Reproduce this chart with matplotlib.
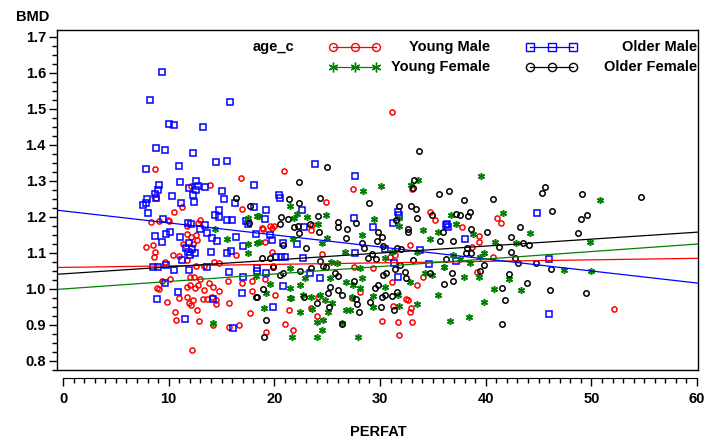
import numpy as np
import matplotlib.pyplot as plt
from matplotlib.ticker import MultipleLocator, FormatStrFormatter

plt.rcParams['font.family'] = ['Liberation Sans', 'DejaVu Sans']
plt.rcParams['font.weight'] = 'bold'

# values
ym_x = [8.67, 16.8, 12.1, 13.9, 8.8, 11.3, 10.5, 16.9, 8.3, 9.1, 9.9, 10.06,
        11.7, 13.0, 12.8, 12.55, 12.7, 11.7, 12.1, 11.4, 12.3,
        8.55, 7.85, 8.67, 8.64, 9.62, 10.4, 11.0, 11.7, 12.6, 13.3, 14.3, 14.8, 16.4,
        9.33, 10.1, 11.98, 12.4, 13.0, 12.0, 12.8, 12.5, 13.3, 13.8, 14.2, 14.8, 15.6,
        8.92, 9.1, 11.7, 11.76, 11.0, 12.3, 12.1, 11.9, 13.2, 13.6, 14.1, 14.5, 14.5,
        15.7, 9.87, 10.6, 12.7, 10.7, 12.9, 14.2, 15.7, 16.7, 17.85, 17.9, 12.2, 16.9,
        31.1, 20.9, 27.4, 33.0, 24.9, 34.75, 35.2, 18.85, 19.6, 19.8, 23.6,
        23.5, 19.1, 19.75, 19.9, 19.1, 20.05, 24.5, 18.95, 20.0,
        32.8, 31.4, 30.9, 27.5, 29.3, 34.1, 31.1, 33.5, 28.1, 32.5,
        21.4, 21.0, 19.2, 21.8, 23.5, 24.0, 24.15, 17.7,
        32.6, 31.2, 32.9, 32.8, 30.15, 31.7, 33.0, 31.8, 27.3,
        41.1, 41.4, 37.8, 39.4, 39.4, 38.7, 40.65, 39.2, 52.1]
ym_y = [1.332, 1.308, 1.285, 1.290, 1.254, 1.229, 1.215, 1.222, 1.186, 1.188, 1.192, 1.189,
        1.176, 1.192, 1.182, 1.150, 1.136, 1.152, 1.145, 1.124, 1.124,
        1.122, 1.116, 1.103, 1.090, 1.074, 1.094, 1.092, 1.080, 1.065, 1.065, 1.076, 1.073, 1.094,
        1.023, 1.027, 1.033, 1.033, 1.028, 1.011, 1.010, 1.002, 0.997, 1.016, 1.005, 0.995, 1.023,
        1.004, 0.999, 1.006, 0.977, 0.974, 0.969, 0.955, 0.960, 0.973, 0.973, 0.979, 0.969, 0.959,
        0.960, 0.964, 0.937, 0.941, 0.914, 0.912, 0.899, 0.895, 0.901, 1.023, 0.995, 0.830, 1.016,
        1.493, 1.328, 1.277, 1.278, 1.243, 1.213, 1.191, 1.170, 1.175, 1.170, 1.177,
        1.164, 1.131, 1.104, 1.064, 1.027, 0.983, 1.097, 1.167, 1.176,
        1.122, 1.094, 1.090, 1.062, 1.059, 1.034, 1.020, 1.011, 0.993, 0.973,
        0.942, 0.903, 0.881, 0.886, 0.946, 0.926, 0.979, 0.932,
        0.969, 0.954, 0.946, 0.935, 0.911, 0.907, 0.909, 0.871, 0.974,
        1.197, 1.184, 1.173, 1.147, 1.130, 1.118, 1.088, 1.047, 0.944]

om_x = [9.39, 8.26, 15.8, 10.06, 10.5, 13.2, 8.8, 9.68, 12.3, 14.5, 15.5, 7.88, 11.0,
        11.1, 12.6, 12.8, 13.4, 11.9, 12.55, 18.1, 9.08, 8.96, 8.7, 15.0, 10.3, 12.3,
        15.2, 7.9, 8.8, 7.85, 7.54, 8.0, 11.2, 12.4, 16.3,
        14.35, 14.8, 14.8, 16.0, 15.5, 17.3, 17.5, 9.46, 11.8, 12.1, 13.4, 13.0, 13.6,
        8.7, 9.37, 9.74, 10.15, 11.07, 11.9, 11.85, 12.5, 14.6, 14.1, 16.4, 17.0, 15.9,
        15.5, 14.0, 11.25, 11.95, 13.6, 8.55, 9.7, 10.5, 15.7, 17.0, 18.4, 9.68, 10.9,
        8.92, 16.9, 14.2, 11.5, 16.1, 11.6, 12.2, 12.0, 9.0,
        23.8, 20.4, 20.5, 27.6, 18.1, 19.2, 22.6, 19.1, 31.7, 31.8, 27.5, 31.2, 29.3,
        22.8, 36.3,
        18.3, 19.6, 19.75, 20.8, 22.1, 20.2, 20.65, 21.0, 22.7, 18.4, 19.2, 23.4, 24.3, 20.8,
        27.6, 30.5, 34.6, 31.3, 31.7, 33.8, 19.9,
        44.9, 36.2, 36.4, 38.0, 37.2, 45.95, 45.95]
om_y = [1.603, 1.524, 1.520, 1.457, 1.455, 1.449, 1.392, 1.385, 1.377, 1.353, 1.356, 1.334, 1.342,
        1.297, 1.299, 1.287, 1.283, 1.280, 1.276, 1.289, 1.288, 1.276, 1.265, 1.272, 1.257, 1.260,
        1.251, 1.250, 1.252, 1.238, 1.232, 1.212, 1.238, 1.241, 1.238,
        1.205, 1.220, 1.200, 1.191, 1.191, 1.190, 1.180, 1.195, 1.182, 1.180, 1.177, 1.166, 1.155,
        1.147, 1.131, 1.152, 1.158, 1.145, 1.129, 1.104, 1.101, 1.133, 1.143, 1.144, 1.119, 1.106,
        1.101, 1.104, 1.080, 1.053, 1.060, 1.062, 1.067, 1.053, 1.048, 1.034, 1.050, 1.016, 0.991,
        0.971, 0.988, 0.971, 0.916, 0.892, 1.115, 1.110, 1.095, 1.060,
        1.347, 1.262, 1.253, 1.315, 1.229, 1.219, 1.219, 1.195, 1.213, 1.206, 1.196, 1.182, 1.172,
        1.172, 1.180,
        1.152, 1.150, 1.136, 1.129, 1.124, 1.090, 1.090, 1.088, 1.085, 1.059, 1.044, 1.044, 1.030, 1.009,
        1.100, 1.111, 1.069, 1.071, 1.034, 1.108, 0.951,
        1.212, 1.177, 1.171, 1.138, 1.078, 1.083, 0.931]

yf_x = [14.4, 17.5, 18.4, 15.5, 17.5, 18.4, 17.5, 14.2, 18.3,
        28.4, 30.1, 33.6, 32.9, 21.5, 22.1, 21.9, 23.05, 24.85, 29.4, 18.5, 31.8, 24.1, 31.8,
        18.5, 21.8, 24.5, 25.0, 26.7, 21.5, 22.9, 22.4, 21.5, 19.6, 19.2, 21.6, 22.7, 23.5,
        24.3, 25.4, 25.9, 25.3, 26.8,
        28.3, 34.7, 34.1, 35.5, 36.1, 33.5, 30.5, 31.1, 28.1, 28.3, 28.1, 27.4, 30.5, 32.8,
        34.3, 34.9, 29.3, 27.3, 35.5, 31.7,
        21.5, 19.0, 22.4, 23.6, 24.0, 24.6, 25.1, 24.5, 24.0, 21.7, 25.5, 26.8, 26.4, 24.8,
        27.2, 29.3, 31.8, 33.5, 36.6, 27.9,
        39.6, 50.8, 36.7, 41.6, 37.2, 38.8, 44.2, 40.9, 42.9, 49.9, 39.8, 36.9, 39.45, 38.5,
        37.6, 36.1, 47.4, 50.0, 37.9, 39.4, 42.2, 40.8, 43.3, 39.8, 38.4]
yf_y = [1.167, 1.196, 1.204, 1.140, 1.125, 1.129, 1.099, 0.905, 1.036,
        1.272, 1.286, 1.303, 1.290, 1.231, 1.208, 1.196, 1.200, 1.205, 1.194, 1.203, 1.198, 1.180, 1.176,
        1.131, 1.139, 1.127, 1.142, 1.104, 1.057, 1.030, 1.011, 1.002, 1.013, 0.988, 0.976, 0.983, 0.979,
        0.983, 1.074, 1.071, 1.030, 1.020,
        1.150, 1.139, 1.164, 1.159, 1.062, 1.104, 1.085, 1.104, 1.057, 1.030, 1.002, 1.011, 1.006, 1.019,
        1.044, 1.039, 0.981, 0.979, 0.983, 0.983,
        0.974, 0.948, 0.935, 0.944, 0.907, 0.914, 0.937, 0.886, 0.867, 0.867, 0.960, 0.942, 0.905, 0.969,
        0.942, 0.951, 0.954, 0.958, 0.911, 0.867,
        1.314, 1.247, 1.205, 1.211, 1.181, 1.153, 1.155, 1.131, 1.127, 1.131, 1.099, 1.094, 1.088, 1.071,
        1.083, 1.060, 1.053, 1.050, 1.034, 1.032, 1.027, 1.001, 0.997, 0.964, 0.921]

of_x = [16.4, 17.7, 17.6, 18.3,
        33.7, 24.95, 22.3, 33.2, 33.1, 35.6, 36.5, 21.35, 24.3, 22.35, 28.95, 31.8, 32.9, 33.4,
        34.9, 33.5, 31.5, 20.65, 21.3, 24.1, 26.05, 27.75, 20.5, 21.9, 23.4, 26.0, 26.9, 32.6, 22.2,
        22.3, 24.2, 26.8, 20.8, 23.0, 18.8, 19.6, 19.9, 22.4, 23.5, 24.3, 24.6, 24.9, 25.7, 26.05,
        20.5, 20.8, 18.95, 18.4, 25.3, 25.1, 26.05, 26.4,
        29.8, 30.2, 28.3, 28.5, 29.7, 30.3, 31.6, 32.0, 32.6, 35.7, 36.0, 33.1, 29.2, 28.9, 29.6,
        31.9, 32.4, 32.5, 34.7, 27.5, 30.3, 30.6, 31.4, 29.8, 29.5, 30.5, 30.2, 31.1, 31.6,
        22.8, 24.0, 25.2, 19.2, 19.0, 26.4,
        27.7, 27.8, 28.0, 29.05, 30.05, 31.3,
        37.9, 40.65, 45.6, 45.3, 49.1, 54.7, 46.3, 49.0, 49.6, 37.2, 37.6, 38.5, 38.3, 43.2, 38.6,
        40.1, 42.4, 48.7, 36.9, 43.5, 44.1, 41.3, 38.2, 38.1, 38.6, 42.4, 42.8, 36.2, 44.8, 43.1,
        39.8, 46.2, 39.45, 36.8, 36.9, 36.1, 42.2, 43.9, 41.5, 46.1, 49.5, 41.8, 41.5]
of_y = [1.252, 1.230, 1.182, 0.979,
        1.384, 1.340, 1.298, 1.302, 1.281, 1.264, 1.272, 1.251, 1.253, 1.240, 1.238, 1.231, 1.231, 1.223,
        1.205, 1.197, 1.191, 1.199, 1.194, 1.203, 1.185, 1.183, 1.181, 1.172, 1.180, 1.172, 1.168, 1.166, 1.176,
        1.155, 1.159, 1.141, 1.122, 1.113, 1.085, 1.085, 1.062, 1.051, 1.057, 1.078, 1.064, 1.060, 1.044, 1.036,
        1.039, 1.044, 1.000, 0.979, 1.006, 0.988, 0.997, 0.983,
        1.157, 1.145, 1.129, 1.115, 1.133, 1.120, 1.115, 1.111, 1.159, 1.133, 1.159, 1.080, 1.096, 1.085, 1.082,
        1.067, 1.048, 1.030, 1.045, 1.022, 1.039, 1.044, 1.056, 1.011, 1.002, 0.983, 0.979, 0.981, 0.993,
        0.979, 0.960, 0.951, 0.914, 0.867, 0.903,
        0.973, 0.957, 0.935, 0.963, 0.951, 0.942,
        1.247, 1.249, 1.284, 1.268, 1.263, 1.255, 1.217, 1.194, 1.205, 1.208, 1.205, 1.213, 1.202, 1.171, 1.166,
        1.159, 1.144, 1.155, 1.133, 1.127, 1.122, 1.118, 1.115, 1.099, 1.101, 1.102, 1.087, 1.083, 1.073, 1.071,
        1.068, 1.056, 1.050, 1.045, 1.022, 1.013, 1.041, 1.018, 1.002, 0.997, 0.989, 0.969, 0.902]

# regression lines: BMD at PERFAT=0 and slope
fit_b0 = [1.060, 1.217, 1.000, 1.042]
fit_b1 = [0.00042, -0.00334, 0.00208, 0.00193]

labels = ['Young Male', 'Older Male', 'Young Female', 'Older Female']
colors = ['#ff0000', '#0000ff', '#008000', '#000000']
markers = ['o', 's', (6, 2, 0), 'o']
msizes = [3.7, 3.8, 5.0, 3.9]
xs = [ym_x, om_x, yf_x, of_x]
ys = [ym_y, om_y, yf_y, of_y]

W, H = 707, 441
fig = plt.figure(figsize=(W / 100, H / 100), dpi=100)
ax = fig.add_axes([57 / W, 1 - 370 / H, 641 / W, 340 / H])
x0, x1 = -0.57, 60.09
y0, y1 = 0.775, 1.7194
ax.set_xlim(x0, x1)
ax.set_ylim(y0, y1)

for i in range(4):
    ax.plot(xs[i], ys[i], linestyle='none', marker=markers[i], ms=msizes[i],
            mfc='none', mec=colors[i], mew=1.1, clip_on=False)

xx = np.array([x0, x1])
for i in range(4):
    ax.plot(xx, fit_b0[i] + fit_b1[i] * xx, color=colors[i], lw=0.9)

# frame + separate x axis line
for s in ['top', 'right', 'left']:
    ax.spines[s].set_linewidth(1)
ax.plot([0, 1], [0, 0], transform=ax.transAxes, color='k', lw=1, clip_on=False)
ax.spines['bottom'].set_position(('outward', 6))
ax.spines['bottom'].set_bounds(0, 60)

ax.xaxis.set_major_locator(MultipleLocator(10))
ax.xaxis.set_minor_locator(MultipleLocator(1))
ax.yaxis.set_major_locator(MultipleLocator(0.1))
ax.yaxis.set_minor_locator(MultipleLocator(0.025))
ax.yaxis.set_major_formatter(FormatStrFormatter('%.1f'))
ax.tick_params(which='major', length=6, width=1, labelsize=10.5)
ax.tick_params(which='minor', length=3.5, width=1)
ax.tick_params(axis='x', pad=4)
ax.tick_params(axis='y', pad=2)
for lab in ax.get_xticklabels() + ax.get_yticklabels():
    lab.set_fontweight('bold')

fig.text(16 / W, 1 - 17 / H, 'BMD', fontsize=10.5, fontweight='bold', va='center', ha='left')
fig.text(378 / W, 1 - 432 / H, 'PERFAT', fontsize=10.5, fontweight='bold', va='center', ha='center')

# legend drawn inside the frame
fig.text(273 / W, 1 - 47 / H, 'age_c', fontsize=10.5, fontweight='bold', va='center', ha='center')
leg_rows = [47, 47, 67, 67]
leg_line = [(330, 378), (527, 575), (330, 378), (527, 575)]
leg_text = [490, 697, 490, 697]
for i in range(4):
    ly = 1 - leg_rows[i] / H
    lx = np.linspace(leg_line[i][0] + 3, leg_line[i][1] - 2, 3) / W
    fig.add_artist(plt.Line2D(lx, [ly] * 3, transform=fig.transFigure, color=colors[i], lw=0.9,
                              marker=markers[i], ms=msizes[i] + 2, mfc='none', mec=colors[i], mew=1.0))
    fig.text(leg_text[i] / W, ly, labels[i], fontsize=10.5, fontweight='bold', va='center', ha='right')

fig.savefig('out.png', dpi=100)
